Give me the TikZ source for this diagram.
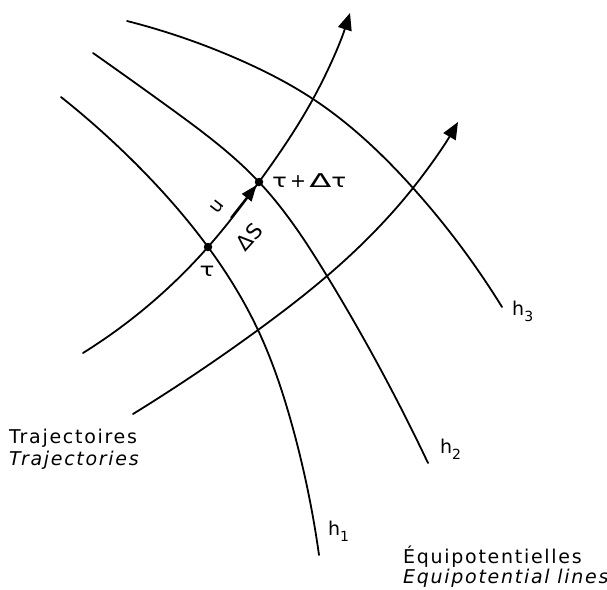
\documentclass[tikz,border=0pt]{standalone}
\usepackage{fontspec}
\setmainfont{DejaVu Sans}[LetterSpace=9]
\newfontfamily\plainsans{DejaVu Sans}
\usetikzlibrary{arrows.meta,calc,hobby}
\begin{document}
\begin{tikzpicture}[x=1pt,y=-1pt,
  curve/.style={line width=1.8pt, line cap=round, use Hobby shortcut},
  traj/.style={curve, -{Triangle[length=17pt,width=14pt]}},
  lbl/.style={inner sep=0pt, font=\fontsize{19}{21}\selectfont},
  dotpt/.style={circle, fill=black, inner sep=0pt, minimum size=8.5pt}]
\useasboundingbox (0,0) rectangle (607,589);

\coordinate (tau) at (208,247);
\coordinate (ttau) at (259,182);

% equipotential lines
\draw[curve] (127,21) .. (240,60) .. (313,99) .. (413,188) .. (502,307);
\draw[curve] (93,53) .. (170,108) .. (ttau) .. (327,276) .. (428,463);
\draw[curve] (61,97) .. (140,168) .. (tau) .. (258,330) .. (292,425) .. (319,555);

% trajectories
\draw[traj] (83,353) .. (tau) .. (ttau) .. (313,99) .. (350,13);
\draw[traj] (133,414) .. (258,330) .. (327,276) .. (413,188) .. (458,122);

% mid arrow
\draw[line width=1.8pt, -{Triangle[length=16pt,width=12pt]}] ($(tau)!0.45!(ttau)$) -- ($(ttau)!4pt!(tau)$);

\node[dotpt] (dtau) at (tau) {};
\node[dotpt] (dttau) at (ttau) {};

% labels
\node[lbl, anchor=base west] (lt) at (272,187) {\scalebox{1.3}[1]{τ}\,+\,\scalebox{1.7}[1]{Δ}\scalebox{1.3}[1]{τ}};
\node[lbl] (l0) at (207,271) {\scalebox{1.3}[1]{τ}};
\node[lbl, rotate=52] (lu) at (217,207) {u};
\node[lbl, rotate=48, font=\fontsize{21}{23}\selectfont\plainsans] (lds) at (249,237) {ΔS};

\node[lbl, anchor=base west] (h3) at (512,315) {h\raisebox{-0.35em}{\fontsize{14}{14}\selectfont 3}};
\node[lbl, anchor=base west] (h2) at (440,453) {h\raisebox{-0.35em}{\fontsize{14}{14}\selectfont 2}};
\node[lbl, anchor=base west] (h1) at (328,535) {h\raisebox{-0.35em}{\fontsize{14}{14}\selectfont 1}};

\node[lbl, anchor=base west] (tr1) at (9,443) {Trajectoires};
\node[lbl, anchor=base west, font=\fontsize{19}{21}\selectfont\itshape] (tr2) at (9,465) {Trajectories};
\node[lbl, anchor=base west] (eq1) at (403,563) {Équipotentielles};
\node[lbl, anchor=base west, font=\fontsize{19}{21}\selectfont\itshape] (eq2) at (403,583) {Equipotential lines};
\end{tikzpicture}
\end{document}
